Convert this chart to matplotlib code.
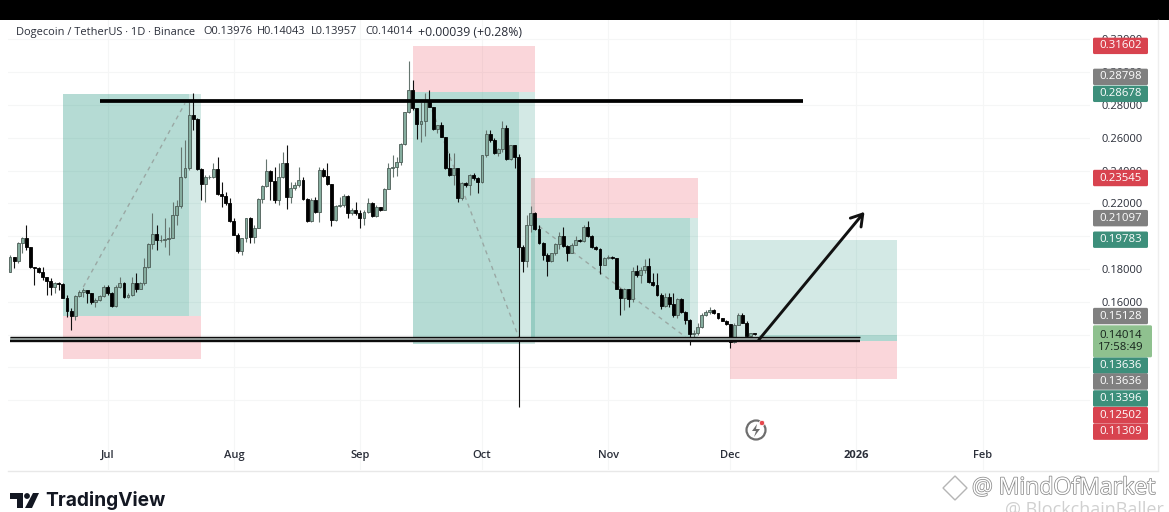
import matplotlib
matplotlib.use('Agg')
import matplotlib.pyplot as plt
import matplotlib.patheffects as pe
from matplotlib.patches import Circle, FancyBboxPatch, Polygon, Rectangle
import pandas as pd

plt.rcParams['font.family'] = ['Open Sans', 'DejaVu Sans']

# daily candles
first_day = '2025-06-07'
first_open = 0.1784
closes = [
    .1875, .1849, .1957, .1987, .1932, .1810, .1804, .1784, .1753, .1729, .1692, .1713, .1709, .1625, .1546, .1513,
    .1637, .1658, .1672, .1652, .1601, .1611, .1637, .1692, .1652, .1574, .1688, .1717, .1627, .1639, .1717, .1676,
    .1713, .1810, .1952, .2014, .1975, .1977, .1981, .1987, .2129, .2184, .2359, .2414, .2739, .2713, .2408, .2318,
    .2363, .2363, .2408, .2257, .2245, .2200, .2095, .2009, .1908, .1987, .2109, .1997, .2052, .2225, .2306, .2399,
    .2339, .2221, .2363, .2448, .2237, .2292, .2312, .2343, .2227, .2093, .2221, .2146, .2404, .2367, .2318, .2099,
    .2184, .2190, .2247, .2140, .2160, .2140, .2109, .2150, .2200, .2123, .2176, .2160, .2288, .2418, .2424, .2455,
    .2562, .2755, .2892, .2780, .2684, .2705, .2827, .2790, .2652, .2676, .2607, .2414, .2373, .2414, .2231, .2327,
    .2312, .2373, .2353, .2333, .2493, .2623, .2587, .2509, .2530, .2660, .2471, .2556, .2485, .1932, .1851, .2068,
    .2139, .2042, .1961, .1885, .1849, .1896, .1952, .2001, .1940, .1900, .1948, .1977, .1969, .2058, .2001, .1932,
    .1924, .1826, .1865, .1871, .1865, .1676, .1623, .1676, .1615, .1788, .1761, .1794, .1818, .1721, .1700, .1641,
    .1574, .1631, .1586, .1519, .1615, .1540, .1489, .1402, .1408, .1448, .1519, .1540, .1550, .1530, .1499, .1485,
    .1465, .1357, .1461, .1522, .1473, .1394, .1408, .14014,
]
highs = [
    .1885, .1875, .1967, .1997, .2068, .1936, .1814, .1810, .1814, .1753, .1743, .1723, .1723, .1713, .1641, .1560,
    .1641, .1672, .1682, .1662, .1652, .1621, .1641, .1703, .1703, .1662, .1703, .1753, .1723, .1652, .1753, .1774,
    .1723, .1865, .1961, .2139, .2068, .2007, .2109, .2058, .2210, .2221, .2546, .2586, .2820, .2875, .2719, .2414,
    .2373, .2373, .2444, .2485, .2332, .2271, .2231, .2109, .2018, .1987, .2109, .2119, .2068, .2231, .2312, .2469,
    .2404, .2424, .2444, .2515, .2556, .2333, .2333, .2424, .2363, .2231, .2231, .2241, .2420, .2414, .2448, .2318,
    .2190, .2241, .2256, .2251, .2170, .2211, .2160, .2160, .2231, .2211, .2190, .2180, .2292, .2444, .2495, .2485,
    .2566, .2759, .3070, .2953, .2780, .2820, .2871, .2891, .2790, .2678, .2698, .2607, .2505, .2505, .2414, .2333,
    .2333, .2379, .2383, .2363, .2495, .2647, .2647, .2597, .2536, .2704, .2678, .2556, .2556, .2500, .1946, .2128,
    .2184, .2150, .2068, .1967, .1896, .1900, .1960, .2027, .2058, .1946, .1956, .2003, .1981, .2068, .2095, .2007,
    .1940, .1926, .1871, .1883, .1879, .1869, .1682, .1682, .1676, .1814, .1824, .1814, .1859, .1865, .1773, .1777,
    .1652, .1656, .1656, .1652, .1621, .1621, .1546, .1493, .1428, .1473, .1530, .1550, .1566, .1558, .1530, .1503,
    .1489, .1465, .1473, .1534, .1534, .1485, .1412, .14043,
]
lows = [
    .1780, .1804, .1835, .1896, .1916, .1804, .1703, .1774, .1733, .1641, .1641, .1652, .1672, .1621, .1509, .1428,
    .1489, .1627, .1627, .1591, .1586, .1570, .1607, .1627, .1641, .1566, .1570, .1682, .1621, .1621, .1635, .1662,
    .1692, .1703, .1804, .1920, .1916, .1966, .1936, .1885, .1987, .2068, .2170, .2353, .2404, .2648, .2404, .2221,
    .2210, .2347, .2353, .2251, .2180, .2190, .2089, .2007, .1900, .1885, .1966, .1956, .1956, .2048, .2200, .2302,
    .2221, .2200, .2190, .2353, .2164, .2204, .2282, .2302, .2221, .2089, .2089, .2139, .2089, .2363, .2312, .2062,
    .2094, .2175, .2180, .2109, .2129, .2129, .2052, .2068, .2140, .2119, .2119, .2155, .2160, .2286, .2363, .2367,
    .2434, .2556, .2749, .2770, .2591, .2576, .2611, .2786, .2648, .2627, .2603, .2408, .2367, .2312, .2211, .2221,
    .2302, .2251, .2343, .2265, .2322, .2481, .2576, .2501, .2489, .2515, .2465, .2465, .2414, .0958, .1784, .1810,
    .2028, .2038, .1953, .1855, .1757, .1845, .1885, .1920, .1936, .1851, .1895, .1944, .1965, .1965, .1997, .1926,
    .1916, .1769, .1824, .1859, .1861, .1676, .1519, .1550, .1570, .1601, .1753, .1717, .1774, .1717, .1696, .1635,
    .1554, .1570, .1566, .1509, .1499, .1530, .1465, .1337, .1367, .1398, .1438, .1513, .1526, .1526, .1495, .1481,
    .1461, .1317, .1347, .1459, .1469, .1387, .1387, .13957,
]

price_ticks = [.10, .12, .14, .16, .18, .20, .22, .24, .26, .28, .30, .32]
price_labels = ['', '', '', '0.16000', '0.18000', '', '0.22000', '0.24000', '0.26000', '0.28000', '0.30000', '0.32000']
month_days = ['2025-07-01', '2025-08-01', '2025-09-01', '2025-10-01', '2025-11-01', '2025-12-01', '2026-01-01', '2026-02-01']
month_labels = ['Jul', 'Aug', 'Sep', 'Oct', 'Nov', 'Dec', '2026', 'Feb']

# position tool levels: entry, target, stop
long1 = [.15128, .28678, .12502]
short1 = [.28798, .13396, .31602]
short2 = [.21097, .13636, .23545]
long2 = [.13636, .19783, .11309]

# price badges on the right axis
badge_values = [.31602, .28798, .28678, .23545, .21097, .19783, .15128, .13636, .13636, .13396, .12502, .11309]
badge_labels = ['0.31602', '0.28798', '0.28678', '0.23545', '0.21097', '0.19783', '0.15128', '0.13636', '0.13636', '0.13396', '0.12502', '0.11309']
badge_kinds = ['r', 'g', 't', 'r', 'g', 't', 'g', 't', 'g', 't', 'r', 'r']
badge_shift = [0, 15, 0, 0, 0, 0, 0, -25, -41, -54, -56, -53]  # stacked so that they do not overlap
last_price = 0.14014

GREEN = '#0b8a72'
RED = '#ea3648'
UP = '#86ad9f'
TEXT = '#2a2e39'
kind_colors = {'r': '#d8434f', 'g': '#808080', 't': '#3d8f7b'}

W, H = 1169, 512
fig = plt.figure(figsize=(W / 100, H / 100), dpi=100)
left, right, top, bottom = 8, 1090, 20, 470
ax = fig.add_axes([left / W, 1 - bottom / H, (right - left) / W, (bottom - top) / H])

days = pd.date_range(first_day, periods=len(closes))
opens = [first_open] + closes[:-1]


def day(text):
    return pd.Timestamp(text)


def box(d0, d1, p0, p1, color, alpha):
    ax.fill_between([day(d0), day(d1)], p0, p1, color=color, alpha=alpha, lw=0, zorder=1)


# long and short position boxes
box('2025-06-20', '2025-07-21', long1[0], long1[1], GREEN, .30)
box('2025-07-21', '2025-07-24', long1[0], long1[1], GREEN, .18)
box('2025-06-20', '2025-07-24', long1[2], long1[0], RED, .20)

box('2025-09-14', '2025-10-10', short1[1], short1[0], GREEN, .30)
box('2025-10-10', '2025-10-14', short1[1], short1[0], GREEN, .18)
box('2025-09-14', '2025-10-14', short1[0], short1[2], RED, .20)

box('2025-10-13', '2025-11-21', short2[1], short2[0], GREEN, .30)
box('2025-11-21', '2025-11-23', short2[1], short2[0], GREEN, .18)
box('2025-10-13', '2025-11-23', short2[0], short2[2], RED, .20)

box('2025-12-01', '2026-01-11', long2[0], long2[1], GREEN, .18)
box('2025-12-08', '2026-01-11', long2[0], .1400, GREEN, .18)
box('2025-12-01', '2026-01-11', long2[2], long2[0], RED, .20)

# dashed paths inside the boxes
ax.plot([day('2025-06-25'), day('2025-07-20')], [.169, .281], color='#9aa8a4', lw=1, ls=(0, (3, 3)), zorder=2)
ax.plot([day('2025-09-18'), day('2025-10-10')], [.2815, .1385], color='#9aa8a4', lw=1, ls=(0, (3, 3)), zorder=2)
ax.plot([day('2025-10-15'), day('2025-11-20')], [.2060, .1385], color='#9aa8a4', lw=1, ls=(0, (3, 3)), zorder=2)

# candles
is_up = [c >= o for o, c in zip(opens, closes)]
wick_colors = ['#66756f' if u else '#111111' for u in is_up]
ax.vlines(days, lows, highs, colors=wick_colors, lw=.8, zorder=3)
body_bottom = [min(o, c) for o, c in zip(opens, closes)]
body_height = [abs(c - o) for o, c in zip(opens, closes)]
body_colors = [UP if u else '#000000' for u in is_up]
edge_colors = ['#4c5c56' if u else '#000000' for u in is_up]
ax.bar(days, body_height, width=.72, bottom=body_bottom, color=body_colors, edgecolor=edge_colors, lw=.6, zorder=4)

# horizontal levels
ax.plot([day('2025-06-29'), day('2025-12-19')], [.2824, .2824], color='black', lw=2.7, solid_capstyle='butt', zorder=5)
level_days = [day('2025-06-07'), day('2026-01-02')]
ax.fill_between(level_days, .1357, .1388, facecolor='#aab5b2', lw=0, zorder=5)
ax.plot(level_days, [.1388, .1388], color='#0c0c0c', lw=1.0, solid_capstyle='butt', zorder=5)
ax.plot(level_days, [.1358, .1358], color='#0c0c0c', lw=1.7, solid_capstyle='butt', zorder=5)

# arrow
ax.annotate('', xy=(day('2026-01-03'), .2148), xytext=(day('2025-12-08'), .1367),
            arrowprops=dict(arrowstyle='->,head_length=.8,head_width=.5', color='#111111', lw=2.1, shrinkA=0, shrinkB=0), zorder=6)

ax.set_ylim(.0574, .3318)
ax.set_xlim(day('2025-06-06 12:00'), day('2026-02-27 10:00'))

ax.yaxis.tick_right()
ax.set_yticks(price_ticks, price_labels)
ax.set_xticks([day(d) for d in month_days], month_labels)
ax.tick_params(axis='y', length=0, pad=8.6, labelsize=8, labelcolor=TEXT)
ax.tick_params(axis='x', length=0, pad=-14.6, labelsize=8, labelcolor=TEXT)
for lab in ax.get_xticklabels():
    lab.set_fontweight('bold' if lab.get_text() == '2026' else 'semibold')
ax.grid(color='#f5f6f6', lw=.8)
ax.set_axisbelow(True)
for s in ax.spines.values():
    s.set_visible(False)

# page furniture, in pixels
pg = fig.add_axes([0, 0, 1, 1], zorder=20)
pg.set_xlim(0, W)
pg.set_ylim(H, 0)
pg.axis('off')
pg.patch.set_alpha(0)
pg.add_patch(Rectangle((0, 0), W, 19.5, fc='black', ec='none'))
pg.plot([left, 1158], [470.5, 470.5], color='#e8e8e8', lw=1)
pg.plot([1158, 1158], [20, 470], color='#eeeeee', lw=1)


def price_to_px(p):
    return H - ax.transData.transform((ax.get_xlim()[0], p))[1]


# badges
for value, label, kind, shift in zip(badge_values, badge_labels, badge_kinds, badge_shift):
    yc = price_to_px(value) - shift
    pg.add_patch(FancyBboxPatch((1093, yc - 8.2), 55, 16.4, boxstyle='round,pad=0,rounding_size=1.5', fc=kind_colors[kind], ec='none'))
    pg.text(1120.5, yc, label, ha='center', va='center', color='white', fontsize=8.2)
yc = price_to_px(last_price) + 7
pg.add_patch(FancyBboxPatch((1093, yc - 16), 59, 32, boxstyle='round,pad=0,rounding_size=1.5', fc='#8fc18f', ec='none'))
pg.text(1120.5, yc, '0.14014\n17:58:49', ha='center', va='center', color='#16231c', fontsize=8.2, linespacing=1.15)

# header line
pg.text(16, 32, 'Dogecoin / TetherUS · 1D · Binance', fontsize=7.9, color=TEXT, va='center')
pg.text(203, 32, 'O0.13976', fontsize=7.9, color=TEXT, va='center')
pg.text(257, 32, 'H0.14043', fontsize=7.9, color=TEXT, va='center')
pg.text(311, 32, 'L0.13957', fontsize=7.9, color=TEXT, va='center')
pg.text(365, 32, 'C0.14014', fontsize=7.9, color=TEXT, va='center')
pg.text(418, 32, '+0.00039 (+0.28%)', fontsize=8.8, color=TEXT, va='center')

# flash icon
pg.add_patch(Circle((756, 430), 9.5, fc='white', ec='#6e6e6e', lw=1.6))
pg.add_patch(Polygon([(757, 424), (752, 431), (756, 431), (754, 437), (760, 429), (756, 429)], fc='#6e6e6e', ec='none'))
pg.add_patch(Circle((762, 423), 2.7, fc='#e5484d', ec='white', lw=.6))

# TradingView logo
pg.add_patch(Polygon([(10, 493), (23, 493), (23, 508), (17, 508), (17, 499), (10, 499)], fc='#131722', ec='none'))
pg.add_patch(Circle((27, 496), 2.9, fc='#131722', ec='none'))
pg.add_patch(Polygon([(33, 493), (39, 493), (32, 508), (25, 508)], fc='#131722', ec='none'))
pg.text(45, 500.5, 'TradingView', fontsize=13.8, fontweight='bold', color='#131722', va='center', family=['Inter', 'DejaVu Sans'])

# watermarks
outline = [pe.withStroke(linewidth=1.1, foreground='#8a8a8a')]
pg.add_patch(Polygon([(955, 476), (967, 488), (955, 500), (943, 488)], fc='white', ec='#b5b5b5', lw=1))
pg.text(972, 488, '@ MindOfMarket', fontsize=16.6, color='white', va='center', path_effects=outline)
pg.text(1005, 510, '@ BlockchainBaller', fontsize=13, color='#d0d0d0', va='center', clip_on=True)

fig.savefig('out.png', dpi=100)
